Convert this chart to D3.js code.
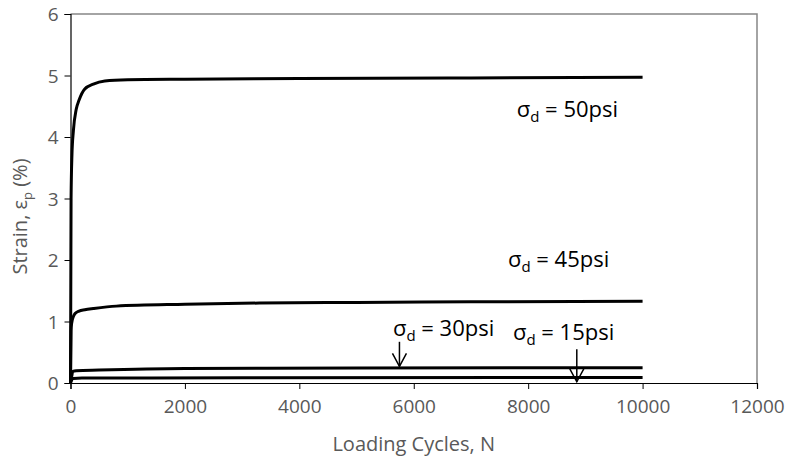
<!DOCTYPE html>
<html>
<head>
<meta charset="utf-8">
<script src="https://cdn.jsdelivr.net/npm/d3@7"></script>
<style>
  body { margin: 0; background: #fff; }
  text { font-family: "Open Sans", "Liberation Sans", sans-serif; }
</style>
</head>
<body>
<div id="chart"></div>
<script>
// data
const cycles50 = [0, 10, 25, 50, 100, 150, 250, 400, 600, 1000, 2000, 4000, 7000, 10000];
const strain50 = [0, 3.0, 3.7, 4.1, 4.45, 4.6, 4.78, 4.86, 4.91, 4.93, 4.94, 4.95, 4.96, 4.97];

const cycles45 = [0, 10, 20, 50, 80, 150, 250, 400, 800, 2000, 3300, 5000, 7000, 10000];
const strain45 = [0, 0.85, 0.97, 1.08, 1.13, 1.17, 1.19, 1.21, 1.25, 1.28, 1.30, 1.31, 1.32, 1.33];

const cycles30 = [0, 20, 40, 100, 500, 2000, 5000, 10000];
const strain30 = [0, 0.1, 0.19, 0.2, 0.21, 0.235, 0.245, 0.25];

const cycles15 = [0, 20, 50, 200, 3000, 10000];
const strain15 = [0, 0.05, 0.075, 0.08, 0.085, 0.09];

const xTicks = [0, 2000, 4000, 6000, 8000, 10000, 12000];
const yTicks = [0, 1, 2, 3, 4, 5, 6];

const series = [
  { name: "50", cycles: cycles50, strain: strain50 },
  { name: "45", cycles: cycles45, strain: strain45 },
  { name: "30", cycles: cycles30, strain: strain30 },
  { name: "15", cycles: cycles15, strain: strain15 }
];

// label anchors (cycles, strain)
const labelText = ["50psi", "45psi", "30psi", "15psi"];
const labelN = [7800, 7646, 5636, 7734];
const labelS = [4.32, 1.88, 0.76, 0.70];

// arrows: x in cycles, from strain top to strain bottom
const arrowN = [5750, 8850];
const arrowTop = [0.67, 0.55];
const arrowBottom = [0.27, 0.02];

const width = 787, height = 461;
const margin = { top: 14, right: 30, bottom: 78, left: 70.5 };

const svg = d3.select("#chart").append("svg")
  .attr("width", width)
  .attr("height", height);

const x = d3.scaleLinear().domain([0, 12000]).range([margin.left, 757]);
const y = d3.scaleLinear().domain([0, 6]).range([383, margin.top]);

// plot border (top & right, gray)
svg.append("path")
  .attr("d", `M${x(0)},${y(6)}H${x(12000)}V${y(0)}`)
  .attr("fill", "none")
  .attr("stroke", "#868686")
  .attr("stroke-width", 1.5);

// axes
const xAxis = svg.append("g")
  .attr("transform", `translate(0,${y(0)})`)
  .call(d3.axisBottom(x).tickValues(xTicks).tickSize(6).tickPadding(14).tickFormat(d3.format("d")));

const yAxis = svg.append("g")
  .attr("transform", `translate(${x(0)},0)`)
  .call(d3.axisLeft(y).tickValues(yTicks).tickSize(6).tickPadding(6).tickFormat(d3.format("d")));

[xAxis, yAxis].forEach(g => {
  g.select(".domain").attr("stroke", "#000").attr("stroke-width", 1.2);
  g.selectAll(".tick line").attr("stroke", "#000").attr("stroke-width", 1);
  g.selectAll(".tick text")
    .attr("fill", "#595959")
    .style("font-size", "19px")
    .style("font-family", "'Open Sans', sans-serif");
});
yAxis.selectAll(".tick text").attr("dy", "0.36em");
xAxis.selectAll(".tick text").attr("dy", "0.55em");

// axis titles
svg.append("text")
  .attr("x", (x(0) + x(12000)) / 2)
  .attr("y", 451)
  .attr("text-anchor", "middle")
  .attr("fill", "#595959")
  .style("font-size", "20px")
  .text("Loading Cycles, N");

const yTitle = svg.append("text")
  .attr("transform", `translate(27,${(y(0) + y(6)) / 2 + 18}) rotate(-90)`)
  .attr("text-anchor", "middle")
  .attr("fill", "#595959")
  .style("font-size", "20px");
yTitle.append("tspan").text("Strain, ε");
yTitle.append("tspan").attr("dy", 5).style("font-size", "13px").text("p");
yTitle.append("tspan").attr("dy", -5).text(" (%)");

// curves
const line = d3.line()
  .x(d => x(d[0]))
  .y(d => y(d[1]))
  .curve(d3.curveMonotoneX);

svg.append("g").selectAll("path")
  .data(series)
  .join("path")
  .attr("d", d => line(d.cycles.map((c, i) => [c, d.strain[i]])))
  .attr("fill", "none")
  .attr("stroke", "#000")
  .attr("stroke-width", 3)
  .attr("stroke-linejoin", "round");

// labels
const labels = svg.append("g").selectAll("text")
  .data(labelText)
  .join("text")
  .attr("x", (d, i) => x(labelN[i]))
  .attr("y", (d, i) => y(labelS[i]))
  .attr("fill", "#000")
  .style("font-size", "22px");
labels.append("tspan").text("σ");
labels.append("tspan").attr("dy", 5).style("font-size", "15px").text("d");
labels.append("tspan").attr("dy", -5).text(d => " = " + d);

// arrows
const arrows = svg.append("g")
  .attr("stroke", "#000")
  .attr("stroke-width", 1.5)
  .attr("fill", "none");
arrowN.forEach((n, i) => {
  const ax = x(n), y0 = y(arrowTop[i]), y1 = y(arrowBottom[i]);
  arrows.append("path").attr("d", `M${ax},${y0}V${y1}`);
  arrows.append("path").attr("d", `M${ax - 7},${y1 - 13}L${ax},${y1}L${ax + 7},${y1 - 13}`);
});
</script>
</body>
</html>
